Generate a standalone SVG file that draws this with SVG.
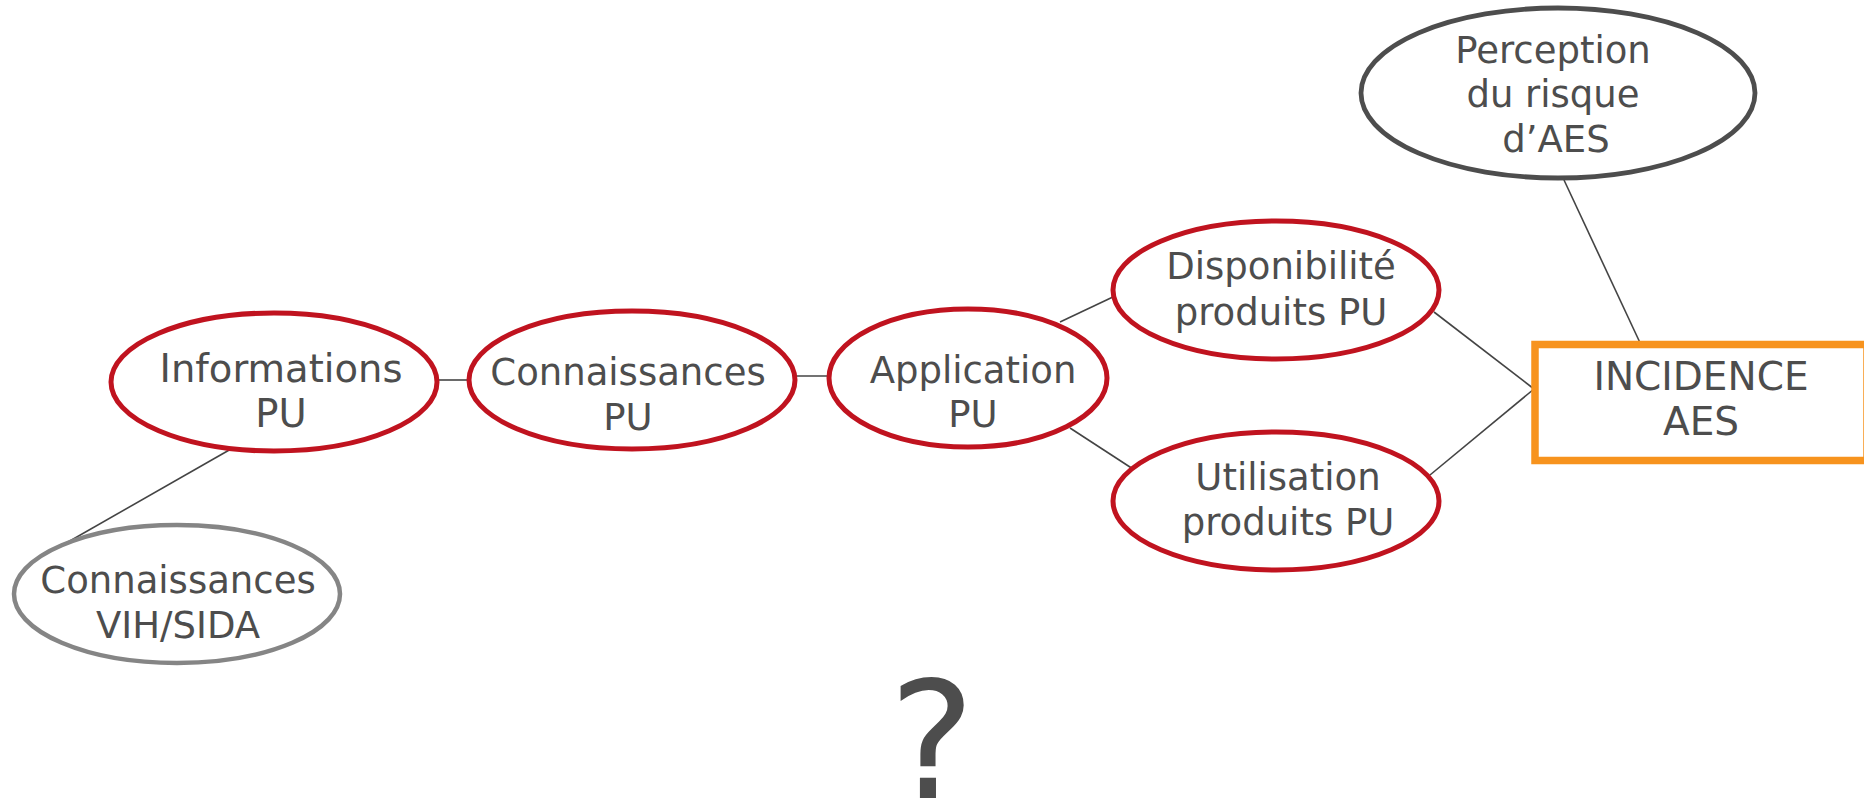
<svg xmlns="http://www.w3.org/2000/svg" width="1864" height="802" viewBox="0 0 1864 802">
<style>
.red{fill:#fff;stroke:#c0131f;stroke-width:5}
.t{font-family:"DejaVu Sans",Verdana,sans-serif;font-size:37px;fill:#4d4d4d;text-anchor:middle}
.c{stroke:#444;stroke-width:1.6;fill:none}
</style>
<rect width="1864" height="802" fill="#fff"/>
<g id="connectors">
<line class="c" x1="437" y1="380" x2="469" y2="380"/>
<line class="c" x1="796" y1="376" x2="829" y2="376"/>
<line class="c" x1="238" y1="445" x2="47" y2="554"/>
<line class="c" x1="1060" y1="322" x2="1115" y2="296"/>
<line class="c" x1="1070" y1="428" x2="1133" y2="469"/>
<line class="c" x1="1434" y1="312" x2="1534" y2="389"/>
<line class="c" x1="1430" y1="475" x2="1534" y2="389"/>
<line class="c" x1="1564" y1="180" x2="1642" y2="347"/>
</g>
<g id="informations">
<ellipse class="red" cx="274" cy="382" rx="163" ry="69"/>
<text class="t" x="281" y="382" style="font-size:38.5px">Informations</text>
<text class="t" x="281" y="427" style="font-size:38.5px">PU</text>
</g>
<g id="connaissances-pu">
<ellipse class="red" cx="632" cy="380" rx="163" ry="69"/>
<text class="t" x="628" y="385">Connaissances</text>
<text class="t" x="628" y="430">PU</text>
</g>
<g id="connaissances-vih">
<ellipse cx="177" cy="594" rx="163" ry="69" fill="#fff" stroke="#858585" stroke-width="4.5"/>
<text class="t" x="178" y="593">Connaissances</text>
<text class="t" x="178" y="638">VIH/SIDA</text>
</g>
<g id="application">
<ellipse class="red" cx="968" cy="378" rx="139" ry="69"/>
<text class="t" x="973" y="383">Application</text>
<text class="t" x="973" y="427">PU</text>
</g>
<g id="disponibilite">
<ellipse class="red" cx="1276" cy="290" rx="163" ry="69"/>
<text class="t" x="1281" y="279">Disponibilité</text>
<text class="t" x="1281" y="325">produits PU</text>
</g>
<g id="utilisation">
<ellipse class="red" cx="1276" cy="501" rx="163" ry="69"/>
<text class="t" x="1288" y="490">Utilisation</text>
<text class="t" x="1288" y="535">produits PU</text>
</g>
<g id="incidence">
<rect x="1535" y="344.5" width="332" height="116" fill="#fff" stroke="#f7931e" stroke-width="7.5"/>
<text class="t" x="1701" y="390" style="font-size:39px">INCIDENCE</text>
<text class="t" x="1701" y="435" style="font-size:39px">AES</text>
</g>
<g id="perception">
<ellipse cx="1558" cy="93" rx="197" ry="85" fill="#fff" stroke="#4d4d4d" stroke-width="4.8"/>
<text class="t" x="1553" y="63">Perception</text>
<text class="t" x="1553" y="107">du risque</text>
<text class="t" x="1556" y="152">d’AES</text>
</g>
<text class="t" x="932" y="798" style="font-size:162px">?</text>
</svg>
